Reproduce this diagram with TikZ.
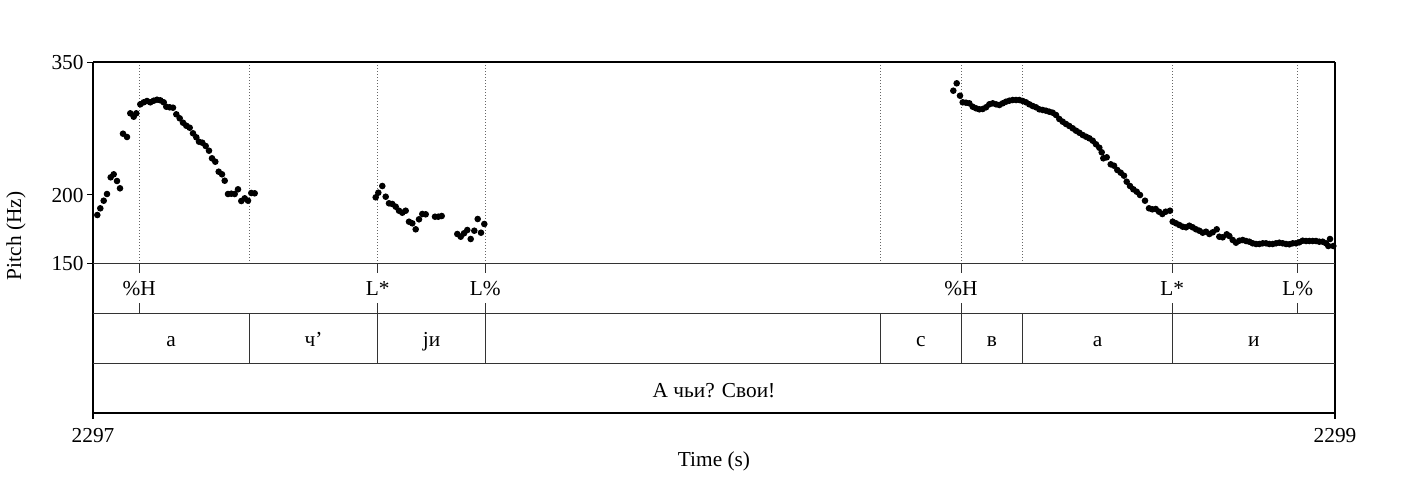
\documentclass[tikz,border=0pt]{standalone}
\usepackage{fontspec}
\setmainfont{Liberation Serif}

\newcommand{\praatsize}{\fontsize{16}{19}\selectfont}

\tikzset{every picture/.style={line width=0.75pt}}
\tikzset{
  dotline/.style={draw=black!60, line width=0.6pt, dash pattern=on 0.75pt off 1.5pt},
  pitchdot/.style={fill=black},
  frameline/.style={line width=1pt},
  tierline/.style={draw=black!80, line width=0.7pt},
  thickline/.style={line width=1.6pt},
}

\begin{document}
\begin{tikzpicture}[x=0.75pt,y=0.75pt,yscale=-1,xscale=1]
\useasboundingbox (0,0) rectangle (1428,476);

%Dotted boundaries in pitch panel
\foreach \bx in {139.3,249.3,377.7,485.3,880.7,961,1022.7,1172.3,1297.7}
  \draw [dotline] (\bx,62) -- (\bx,263);

%Pitch points (first phrase)
\foreach \px/\py in {97.3/215, 100.3/208.3, 103.7/200.7, 107/194, 110.7/177.3, 113.7/174.3, 117/181, 120/188.3, 123/133.7, 127/137, 130.3/113.3, 133.7/116.7, 136.3/113.3, 140.3/104.3, 143.7/102.3, 147/101, 150.3/102.3, 153.7/100.7, 157/99.7, 160.3/100.3, 163.7/102.3, 166.3/106.7, 169.7/107.3, 173/107.7, 176.3/114.3, 179.7/118.3, 183/122.7, 186.3/125.7, 189.7/127.7, 193/133.3, 196.3/137.3, 199/141.7, 202.3/142.7, 205.7/146, 209/150.7, 212/158.3, 215.3/161.7, 218.7/171.7, 222/174.3, 224.7/180.7, 228/194, 231.3/193.7, 234.7/194, 238/189.3, 241.3/201, 244.7/198.3, 248/200.7, 251.3/193, 254.7/193.3,
  375.7/197.3, 378.3/192.7, 382.3/186, 385.7/196.7, 389/203.3, 392.3/204, 395.7/206.7, 399/210.7, 402.3/212.7, 405.7/210.7, 409/221.7, 412.3/223.3, 415.7/229.3, 419/219.3, 422.3/214, 425.7/214.3, 435/216.7, 438.3/216.7, 441.7/216, 457.3/234, 460.7/236.7, 464/233.3, 467.3/230, 470.7/239, 474.3/230.7, 477.7/219, 481/232.7, 484.3/224}
  \fill [pitchdot] (\px,\py) circle [radius=3.3];

%Pitch points (second phrase)
\foreach \px/\py in {953.3/90.7, 956.7/83.3, 960/95.7, 962.7/102.3, 966/102.7, 969.3/103.3, 972.7/106.7, 976/108.3, 979.3/109.3, 982.7/109, 986/107.3, 989.3/104.3, 992.7/103.3, 996/104.3, 999.3/105, 1002.7/103.3, 1006/101.7, 1009.3/100.7, 1012.7/100, 1016/100, 1019.3/100, 1022.7/101, 1026/102.3, 1029.3/104.3, 1032.7/106, 1036/107.3, 1039.3/109.3, 1042.7/110, 1046/110.7, 1049.3/111.7, 1052.7/112.7, 1056/115, 1059.3/119, 1062.7/121.7, 1066/124, 1069.3/126, 1072.7/128.3, 1076/130.7, 1079.3/132.7, 1082.7/135, 1086/136.7, 1089.3/138.3, 1092.7/140.7, 1096/144.3, 1099.3/147.7, 1101.7/152.3, 1103.3/158.3, 1106.7/157.3, 1110.7/164.3, 1114/165.7, 1117.3/170, 1120.7/172.7, 1124/175.7, 1126.7/181.7, 1130/186, 1133.3/189.3, 1136.7/191.7, 1140/195, 1145/200.7, 1149/208.3, 1152.3/209.3, 1155.7/209, 1159/211.7, 1162.3/214, 1165.7/211.7, 1170/210.7,
  1172.7/221.7, 1176/223.3, 1179.3/225, 1182.7/226.7, 1186/227.3, 1189.3/225.7, 1192.7/227.3, 1196/229.3, 1199.3/230.7, 1202.7/232.7, 1206/231.7, 1209.3/234, 1212.7/232.3, 1216.7/229.3, 1219.3/236.7, 1222.7/237.3, 1226.7/234.3, 1229.3/236, 1232.7/240, 1236/242.7, 1239.3/240.7, 1242.7/240, 1246/241, 1249.3/241.7, 1252.7/243.3, 1256/244, 1259.3/244, 1262.7/243.3, 1266/243.3, 1269.3/244, 1272.7/244, 1276/243.3, 1279.3/242.7, 1282.7/243.3, 1286/244, 1289.3/244.3, 1292.7/243.3, 1296/243.3, 1299.3/242.3, 1302.7/240.7, 1306/241, 1309.3/241, 1312.7/241, 1316/241, 1319.3/241.7, 1322.7/241.7, 1326/243.3, 1328.3/246, 1330/239, 1333.3/246}
  \fill [pitchdot] (\px,\py) circle [radius=3.3];

%Frame and tier lines
\draw [frameline]   (93,62) -- (1335,62) ;
\draw [frameline]   (93,62) -- (93,419) ;
\draw [frameline]   (1335,62) -- (1335,419) ;
\draw [tierline]   (93,263) -- (1335,263) ;
\draw [tierline]   (93,313) -- (1335,313) ;
\draw [tierline]   (93,363) -- (1335,363) ;
\draw [thickline]   (93,413) -- (1335,413) ;

%Y ticks
\foreach \ty in {62,194.8,263}
  \draw    (87,\ty) -- (93,\ty) ;

%Tone tier ticks
\foreach \tx in {139.3,377.7,485.3,961,1172.3,1297.7}
  {\draw [tierline]   (\tx,263) -- (\tx,273) ;
   \draw [tierline]   (\tx,303) -- (\tx,313) ;}

%Segment boundaries
\foreach \sx in {249.3,377.7,485.3,880.7,961,1022.7,1172.3}
  \draw [tierline]   (\sx,313) -- (\sx,363) ;

% Text Node
\draw (85,69) node (y350) [anchor=base east][inner sep=0.75pt]  [font=\praatsize] {350};
% Text Node
\draw (85,202) node (y200) [anchor=base east][inner sep=0.75pt]  [font=\praatsize] {200};
% Text Node
\draw (85,270) node (y150) [anchor=base east][inner sep=0.75pt]  [font=\praatsize] {150};
% Text Node
\draw (16,236) node (ylab) [anchor=center][inner sep=0.75pt]  [font=\praatsize,rotate=90] {Pitch (Hz)};
% Text Node
\draw (93,442) node (x2297) [anchor=base][inner sep=0.75pt]  [font=\praatsize] {2297};
% Text Node
\draw (1335,442) node (x2299) [anchor=base][inner sep=0.75pt]  [font=\praatsize] {2299};
% Text Node
\draw (714,466) node (xlab) [anchor=base][inner sep=0.75pt]  [font=\praatsize] {Time (s)};

% Tone labels
\draw (139.3,295) node (tone1) [anchor=base][inner sep=0.75pt]  [font=\praatsize] {\%H};
\draw (377.7,295) node (tone2) [anchor=base][inner sep=0.75pt]  [font=\praatsize] {L*};
\draw (485.3,295) node (tone3) [anchor=base][inner sep=0.75pt]  [font=\praatsize] {L\%};
\draw (961,295) node (tone4) [anchor=base][inner sep=0.75pt]  [font=\praatsize] {\%H};
\draw (1172.3,295) node (tone5) [anchor=base][inner sep=0.75pt]  [font=\praatsize] {L*};
\draw (1297.7,295) node (tone6) [anchor=base][inner sep=0.75pt]  [font=\praatsize] {L\%};

% Segment labels
\draw (171.2,346) node (seg1) [anchor=base][inner sep=0.75pt]  [font=\praatsize] {а};
\draw (313.5,346) node (seg2) [anchor=base][inner sep=0.75pt]  [font=\praatsize] {ч’};
\draw (431.5,346) node (seg3) [anchor=base][inner sep=0.75pt]  [font=\praatsize] {jи};
\draw (920.9,346) node (seg4) [anchor=base][inner sep=0.75pt]  [font=\praatsize] {с};
\draw (991.9,346) node (seg5) [anchor=base][inner sep=0.75pt]  [font=\praatsize] {в};
\draw (1097.5,346) node (seg6) [anchor=base][inner sep=0.75pt]  [font=\praatsize] {а};
\draw (1253.7,346) node (seg7) [anchor=base][inner sep=0.75pt]  [font=\praatsize] {и};

% Word label
\draw (714,397) node (word1) [anchor=base][inner sep=0.75pt]  [font=\praatsize] {А чьи? Свои!};

\end{tikzpicture}
\end{document}
